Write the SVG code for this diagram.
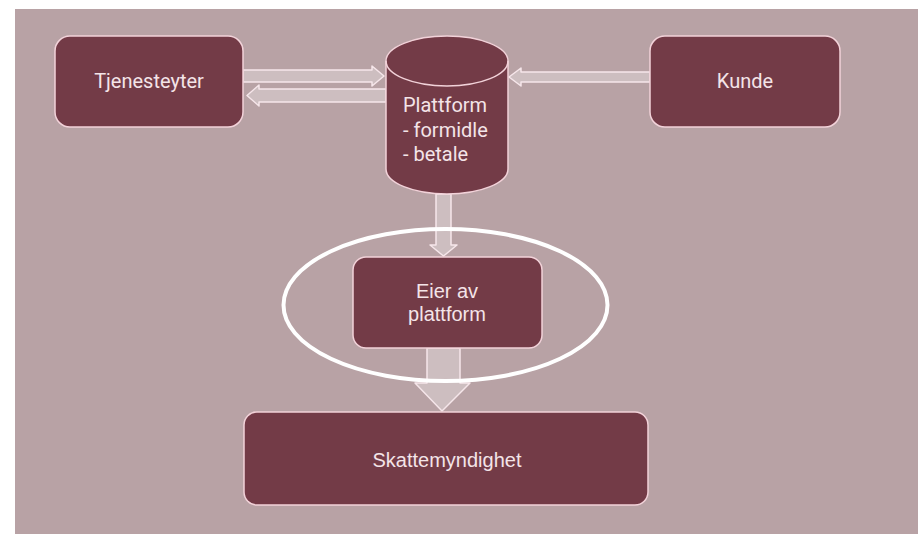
<svg xmlns="http://www.w3.org/2000/svg" width="918" height="534" viewBox="0 0 918 534">
<style>
.node{fill:#733b47;stroke:#f2d2d9;stroke-width:1.5}
.arr{fill:#ffffff;fill-opacity:0.3;stroke:#f6e6ea;stroke-width:1.5;stroke-linejoin:round}
.t1{font-family:Roboto,"Liberation Sans",sans-serif;font-size:20px;fill:#f4e4e8}
.t2{font-family:"Liberation Sans",Arial,sans-serif;font-size:20px;fill:#f4e4e8;text-anchor:middle}
</style>
<rect x="0" y="0" width="918" height="534" fill="#ffffff"/>
<rect x="15" y="9" width="903" height="525" fill="#b8a2a5"/>
<g id="connectors">
<path class="arr" d="M243,70 H372 V66 L384,76 L372,86 V82 H243 Z"/>
<path class="arr" d="M386,89 H259 V85 L247,95.5 L259,106 V102 H386 Z"/>
<path class="arr" d="M650,72 H521 V68 L509,77 L521,86 V82 H650 Z"/>
<path class="arr" d="M436,194 V245 H430 L443.5,256 L457,245 H451 V194 Z"/>
<path class="arr" d="M427,348 V383 H415 L442,411 L470,383 H460 V348 Z"/>
</g>
<g id="tjenesteyter">
<rect class="node" x="55" y="36" width="188" height="91" rx="15"/>
<text class="t1" x="149" y="88" text-anchor="middle">Tjenesteyter</text>
</g>
<g id="kunde">
<rect class="node" x="650" y="36" width="190" height="91" rx="15"/>
<text class="t1" x="745" y="88" text-anchor="middle">Kunde</text>
</g>
<g id="plattform">
<path class="node" d="M386,61 A61,25 0 0 1 508,61 V169 A61,25 0 0 1 386,169 Z"/>
<path d="M386,61 A61,25 0 0 0 508,61" fill="none" stroke="#f2d2d9" stroke-width="1.5"/>
<text class="t1" x="403" y="112">Plattform</text>
<text class="t1" x="403" y="137">- formidle</text>
<text class="t1" x="403" y="161">- betale</text>
</g>
<g id="eier">
<rect class="node" x="353" y="257" width="189" height="91" rx="13"/>
<text class="t2" x="447" y="298">Eier av</text>
<text class="t2" x="447" y="321">plattform</text>
</g>
<g id="ellipse">
<ellipse cx="445.5" cy="305" rx="162" ry="76" fill="none" stroke="#ffffff" stroke-width="4"/>
</g>
<g id="skattemyndighet">
<rect class="node" x="244" y="412" width="404" height="93" rx="13"/>
<text class="t2" x="447" y="467">Skattemyndighet</text>
</g>
</svg>
